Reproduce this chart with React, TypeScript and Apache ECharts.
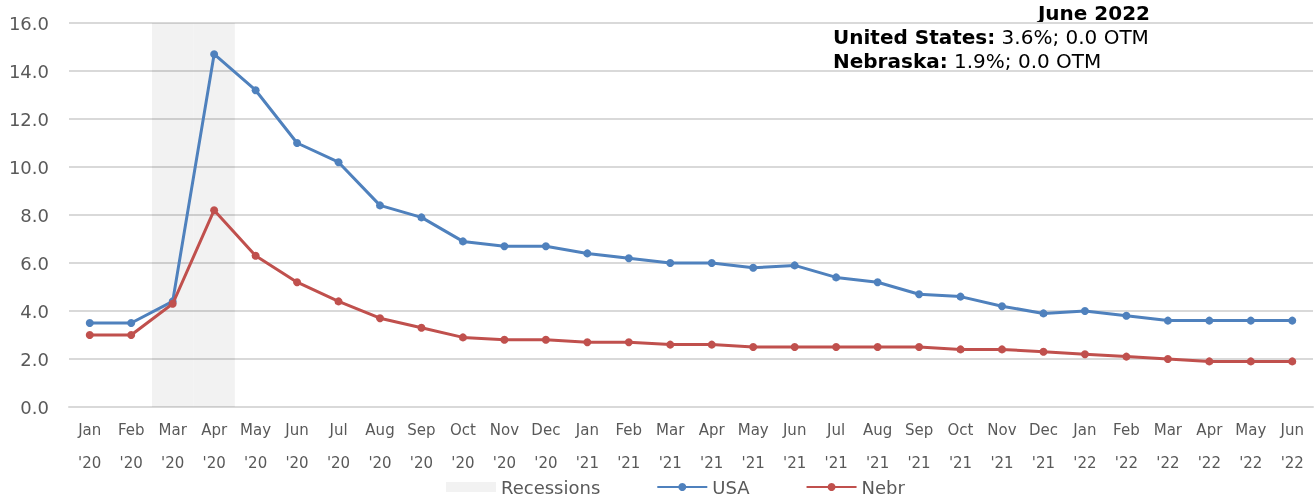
import React, { useEffect, useRef } from "react";
import * as echarts from "echarts";

const months = ["Jan","Feb","Mar","Apr","May","Jun","Jul","Aug","Sep","Oct","Nov","Dec","Jan","Feb","Mar","Apr","May","Jun","Jul","Aug","Sep","Oct","Nov","Dec","Jan","Feb","Mar","Apr","May","Jun"];
const years = ["'20","'20","'20","'20","'20","'20","'20","'20","'20","'20","'20","'20","'21","'21","'21","'21","'21","'21","'21","'21","'21","'21","'21","'21","'22","'22","'22","'22","'22","'22"];
const categories = months.map((m, i) => m + "\n" + years[i]);

const usa = [3.5,3.5,4.4,14.7,13.2,11.0,10.2,8.4,7.9,6.9,6.7,6.7,6.4,6.2,6.0,6.0,5.8,5.9,5.4,5.2,4.7,4.6,4.2,3.9,4.0,3.8,3.6,3.6,3.6,3.6];
const nebr = [3.0,3.0,4.3,8.2,6.3,5.2,4.4,3.7,3.3,2.9,2.8,2.8,2.7,2.7,2.6,2.6,2.5,2.5,2.5,2.5,2.5,2.4,2.4,2.3,2.2,2.1,2.0,1.9,1.9,1.9];
const recessionMonths = ["Mar\n'20", "Apr\n'20"];
const yMax = 16;
const recessions = categories.map((c) => (recessionMonths.includes(c) ? yMax : null));

const FONT = "DejaVu Sans";

export default function App() {
  const ref = useRef<HTMLDivElement>(null);
  useEffect(() => {
    if (!ref.current) return;
    const chart = echarts.init(ref.current, null, { renderer: "svg" });
    chart.setOption({
      animation: false,
      textStyle: { fontFamily: FONT },
      grid: { left: 69, right: 2, top: 23, bottom: 89, containLabel: false },
      legend: {
        left: 441,
        top: 472,
        itemGap: 56,
        itemWidth: 50,
        itemHeight: 10,
        textStyle: { fontFamily: FONT, fontSize: 18, color: "#595959", lineHeight: 20 },
        data: [
          { name: "Recessions", icon: "rect", itemStyle: { color: "#f2f2f2" } },
          { name: "USA" },
          { name: "Nebr" },
        ],
      },
      xAxis: {
        type: "category",
        data: categories,
        boundaryGap: true,
        axisTick: { show: false },
        axisLine: { lineStyle: { color: "#d9d9d9", width: 2 } },
        axisLabel: {
          interval: 0,
          color: "#595959",
          fontFamily: FONT,
          fontSize: 15,
          lineHeight: 33,
          margin: 6,
        },
      },
      yAxis: {
        type: "value",
        min: 0,
        max: yMax,
        interval: 2,
        axisLine: { show: false },
        axisTick: { show: false },
        splitLine: { lineStyle: { color: "#d9d9d9", width: 2 } },
        axisLabel: {
          color: "#595959",
          fontFamily: FONT,
          fontSize: 18,
          margin: 20,
          formatter: (v: number) => v.toFixed(1),
        },
      },
      series: [
        {
          name: "Recessions",
          type: "bar",
          data: recessions,
          barCategoryGap: "0%",
          itemStyle: { color: "rgba(0,0,0,0.05)" },
          silent: true,
          z: 1,
        },
        {
          name: "USA",
          type: "line",
          data: usa,
          symbol: "circle",
          symbolSize: 8,
          lineStyle: { color: "#4f81bd", width: 3 },
          itemStyle: { color: "#4f81bd" },
          z: 3,
        },
        {
          name: "Nebr",
          type: "line",
          data: nebr,
          symbol: "circle",
          symbolSize: 8,
          lineStyle: { color: "#c0504d", width: 3 },
          itemStyle: { color: "#c0504d" },
          z: 4,
        },
      ],
      graphic: [
        {
          type: "text",
          right: 1315 - 1150,
          top: 3,
          style: {
            text: "June 2022",
            fontFamily: FONT,
            fontWeight: "bold",
            fontSize: 20,
            fill: "#000",
          },
        },
        {
          type: "text",
          left: 833,
          top: 27,
          style: {
            text: "{b|United States:} 3.6%; 0.0 OTM",
            fontFamily: FONT,
            fontSize: 20,
            fill: "#000",
            rich: { b: { fontWeight: "bold", fontSize: 20, fontFamily: FONT, fill: "#000" } },
          },
        },
        {
          type: "text",
          left: 833,
          top: 51,
          style: {
            text: "{b|Nebraska:} 1.9%; 0.0 OTM",
            fontFamily: FONT,
            fontSize: 20,
            fill: "#000",
            rich: { b: { fontWeight: "bold", fontSize: 20, fontFamily: FONT, fill: "#000" } },
          },
        },
      ],
    });
    return () => chart.dispose();
  }, []);
  return (
    <div
      ref={ref}
      style={{ position: "fixed", left: 0, top: 0, width: 1315, height: 496 }}
    />
  );
}
